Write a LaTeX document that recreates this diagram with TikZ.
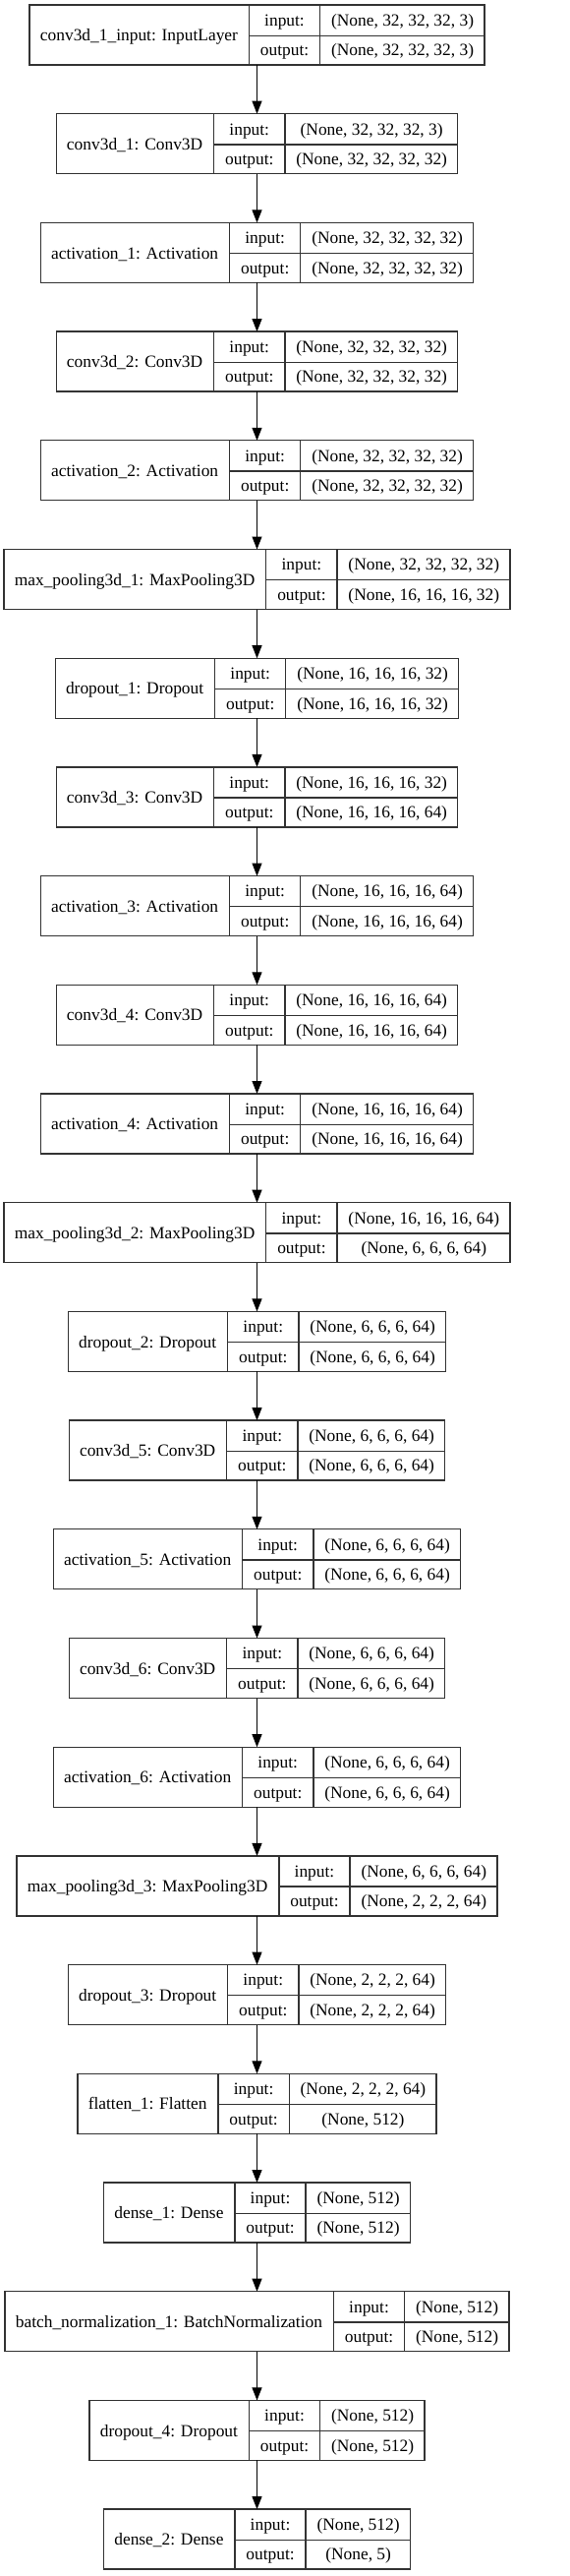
\documentclass[tikz,border=0pt]{standalone}
\usepackage{fontspec}
\setmainfont{Liberation Serif}
\usepackage{multirow}
\usepackage{colortbl}
\usetikzlibrary{positioning,arrows.meta}

\setlength{\tabcolsep}{10.8pt}
\setlength{\arrayrulewidth}{1.3pt}
\arrayrulecolor{black!80}

\tikzset{
    layer/.style={draw=black!80, line width=1.3pt, inner sep=0pt, outer sep=0pt, minimum height=61pt,
        font=\fontsize{17.4}{30.5}\selectfont},
    flow/.style={-{Triangle[length=13pt,width=10pt]}, line width=1pt}
}

\begin{document}
\begin{tikzpicture}

\useasboundingbox (0,0) rectangle (579pt,-2619pt);

\node[layer] (inputlayer) at (261.5pt,-35.5pt) {%
    \begin{tabular}{c|c|c}
    \multirow{2}{*}{conv3d\_1\_input: InputLayer} & input: & (None, 32, 32, 32, 3)\\ \cline{2-3}
    & output: & (None, 32, 32, 32, 3)
    \end{tabular}%
};
\node[layer, below=49.7pt of inputlayer] (conv1) {%
    \begin{tabular}{c|c|c}
    \multirow{2}{*}{conv3d\_1: Conv3D} & input: & (None, 32, 32, 32, 3)\\ \cline{2-3}
    & output: & (None, 32, 32, 32, 32)
    \end{tabular}%
};
\node[layer, below=49.7pt of conv1] (act1) {%
    \begin{tabular}{c|c|c}
    \multirow{2}{*}{activation\_1: Activation} & input: & (None, 32, 32, 32, 32)\\ \cline{2-3}
    & output: & (None, 32, 32, 32, 32)
    \end{tabular}%
};
\node[layer, below=49.7pt of act1] (conv2) {%
    \begin{tabular}{c|c|c}
    \multirow{2}{*}{conv3d\_2: Conv3D} & input: & (None, 32, 32, 32, 32)\\ \cline{2-3}
    & output: & (None, 32, 32, 32, 32)
    \end{tabular}%
};
\node[layer, below=49.7pt of conv2] (act2) {%
    \begin{tabular}{c|c|c}
    \multirow{2}{*}{activation\_2: Activation} & input: & (None, 32, 32, 32, 32)\\ \cline{2-3}
    & output: & (None, 32, 32, 32, 32)
    \end{tabular}%
};
\node[layer, below=49.7pt of act2] (pool1) {%
    \begin{tabular}{c|c|c}
    \multirow{2}{*}{max\_pooling3d\_1: MaxPooling3D} & input: & (None, 32, 32, 32, 32)\\ \cline{2-3}
    & output: & (None, 16, 16, 16, 32)
    \end{tabular}%
};
\node[layer, below=49.7pt of pool1] (drop1) {%
    \begin{tabular}{c|c|c}
    \multirow{2}{*}{dropout\_1: Dropout} & input: & (None, 16, 16, 16, 32)\\ \cline{2-3}
    & output: & (None, 16, 16, 16, 32)
    \end{tabular}%
};
\node[layer, below=49.7pt of drop1] (conv3) {%
    \begin{tabular}{c|c|c}
    \multirow{2}{*}{conv3d\_3: Conv3D} & input: & (None, 16, 16, 16, 32)\\ \cline{2-3}
    & output: & (None, 16, 16, 16, 64)
    \end{tabular}%
};
\node[layer, below=49.7pt of conv3] (act3) {%
    \begin{tabular}{c|c|c}
    \multirow{2}{*}{activation\_3: Activation} & input: & (None, 16, 16, 16, 64)\\ \cline{2-3}
    & output: & (None, 16, 16, 16, 64)
    \end{tabular}%
};
\node[layer, below=49.7pt of act3] (conv4) {%
    \begin{tabular}{c|c|c}
    \multirow{2}{*}{conv3d\_4: Conv3D} & input: & (None, 16, 16, 16, 64)\\ \cline{2-3}
    & output: & (None, 16, 16, 16, 64)
    \end{tabular}%
};
\node[layer, below=49.7pt of conv4] (act4) {%
    \begin{tabular}{c|c|c}
    \multirow{2}{*}{activation\_4: Activation} & input: & (None, 16, 16, 16, 64)\\ \cline{2-3}
    & output: & (None, 16, 16, 16, 64)
    \end{tabular}%
};
\node[layer, below=49.7pt of act4] (pool2) {%
    \begin{tabular}{c|c|c}
    \multirow{2}{*}{max\_pooling3d\_2: MaxPooling3D} & input: & (None, 16, 16, 16, 64)\\ \cline{2-3}
    & output: & (None, 6, 6, 6, 64)
    \end{tabular}%
};

    % -------

\node[layer, below=49.7pt of pool2] (drop2) {%
    \begin{tabular}{c|c|c}
    \multirow{2}{*}{dropout\_2: Dropout} & input: & (None, 6, 6, 6, 64)\\ \cline{2-3}
    & output: & (None, 6, 6, 6, 64)
    \end{tabular}%
};
\node[layer, below=49.7pt of drop2] (conv5) {%
    \begin{tabular}{c|c|c}
    \multirow{2}{*}{conv3d\_5: Conv3D} & input: & (None, 6, 6, 6, 64)\\ \cline{2-3}
    & output: & (None, 6, 6, 6, 64)
    \end{tabular}%
};
\node[layer, below=49.7pt of conv5] (act5) {%
    \begin{tabular}{c|c|c}
    \multirow{2}{*}{activation\_5: Activation} & input: & (None, 6, 6, 6, 64)\\ \cline{2-3}
    & output: & (None, 6, 6, 6, 64)
    \end{tabular}%
};
\node[layer, below=49.7pt of act5] (conv6) {%
    \begin{tabular}{c|c|c}
    \multirow{2}{*}{conv3d\_6: Conv3D} & input: & (None, 6, 6, 6, 64)\\ \cline{2-3}
    & output: & (None, 6, 6, 6, 64)
    \end{tabular}%
};
\node[layer, below=49.7pt of conv6] (act6) {%
    \begin{tabular}{c|c|c}
    \multirow{2}{*}{activation\_6: Activation} & input: & (None, 6, 6, 6, 64)\\ \cline{2-3}
    & output: & (None, 6, 6, 6, 64)
    \end{tabular}%
};
\node[layer, below=49.7pt of act6] (pool3) {%
    \begin{tabular}{c|c|c}
    \multirow{2}{*}{max\_pooling3d\_3: MaxPooling3D} & input: & (None, 6, 6, 6, 64)\\ \cline{2-3}
    & output: & (None, 2, 2, 2, 64)
    \end{tabular}%
};
\node[layer, below=49.7pt of pool3] (drop3) {%
    \begin{tabular}{c|c|c}
    \multirow{2}{*}{dropout\_3: Dropout} & input: & (None, 2, 2, 2, 64)\\ \cline{2-3}
    & output: & (None, 2, 2, 2, 64)
    \end{tabular}%
};
\node[layer, below=49.7pt of drop3] (flat1) {%
    \begin{tabular}{c|c|c}
    \multirow{2}{*}{flatten\_1: Flatten} & input: & (None, 2, 2, 2, 64)\\ \cline{2-3}
    & output: & (None, 512)
    \end{tabular}%
};
\node[layer, below=49.7pt of flat1] (dense1) {%
    \begin{tabular}{c|c|c}
    \multirow{2}{*}{dense\_1: Dense} & input: & (None, 512)\\ \cline{2-3}
    & output: & (None, 512)
    \end{tabular}%
};
\node[layer, below=49.7pt of dense1] (bnorm1) {%
    \begin{tabular}{c|c|c}
    \multirow{2}{*}{batch\_normalization\_1: BatchNormalization} & input: & (None, 512)\\ \cline{2-3}
    & output: & (None, 512)
    \end{tabular}%
};
\node[layer, below=49.7pt of bnorm1] (drop4) {%
    \begin{tabular}{c|c|c}
    \multirow{2}{*}{dropout\_4: Dropout} & input: & (None, 512)\\ \cline{2-3}
    & output: & (None, 512)
    \end{tabular}%
};
\node[layer, below=49.7pt of drop4] (dense2) {%
    \begin{tabular}{c|c|c}
    \multirow{2}{*}{dense\_2: Dense} & input: & (None, 512)\\ \cline{2-3}
    & output: & (None, 5)
    \end{tabular}%
};

    % arrows

\draw[flow] (inputlayer) -- (conv1);
\draw[flow] (conv1) -- (act1);
\draw[flow] (act1) -- (conv2);
\draw[flow] (conv2) -- (act2);
\draw[flow] (act2) -- (pool1);
\draw[flow] (pool1) -- (drop1);
\draw[flow] (drop1) -- (conv3);
\draw[flow] (conv3) -- (act3);
\draw[flow] (act3) -- (conv4);
\draw[flow] (conv4) -- (act4);
\draw[flow] (act4) -- (pool2);
\draw[flow] (pool2) -- (drop2);
\draw[flow] (drop2) -- (conv5);
\draw[flow] (conv5) -- (act5);
\draw[flow] (act5) -- (conv6);
\draw[flow] (conv6) -- (act6);
\draw[flow] (act6) -- (pool3);
\draw[flow] (pool3) -- (drop3);
\draw[flow] (drop3) -- (flat1);
\draw[flow] (flat1) -- (dense1);
\draw[flow] (dense1) -- (bnorm1);
\draw[flow] (bnorm1) -- (drop4);
\draw[flow] (drop4) -- (dense2);

\end{tikzpicture}
\end{document}
